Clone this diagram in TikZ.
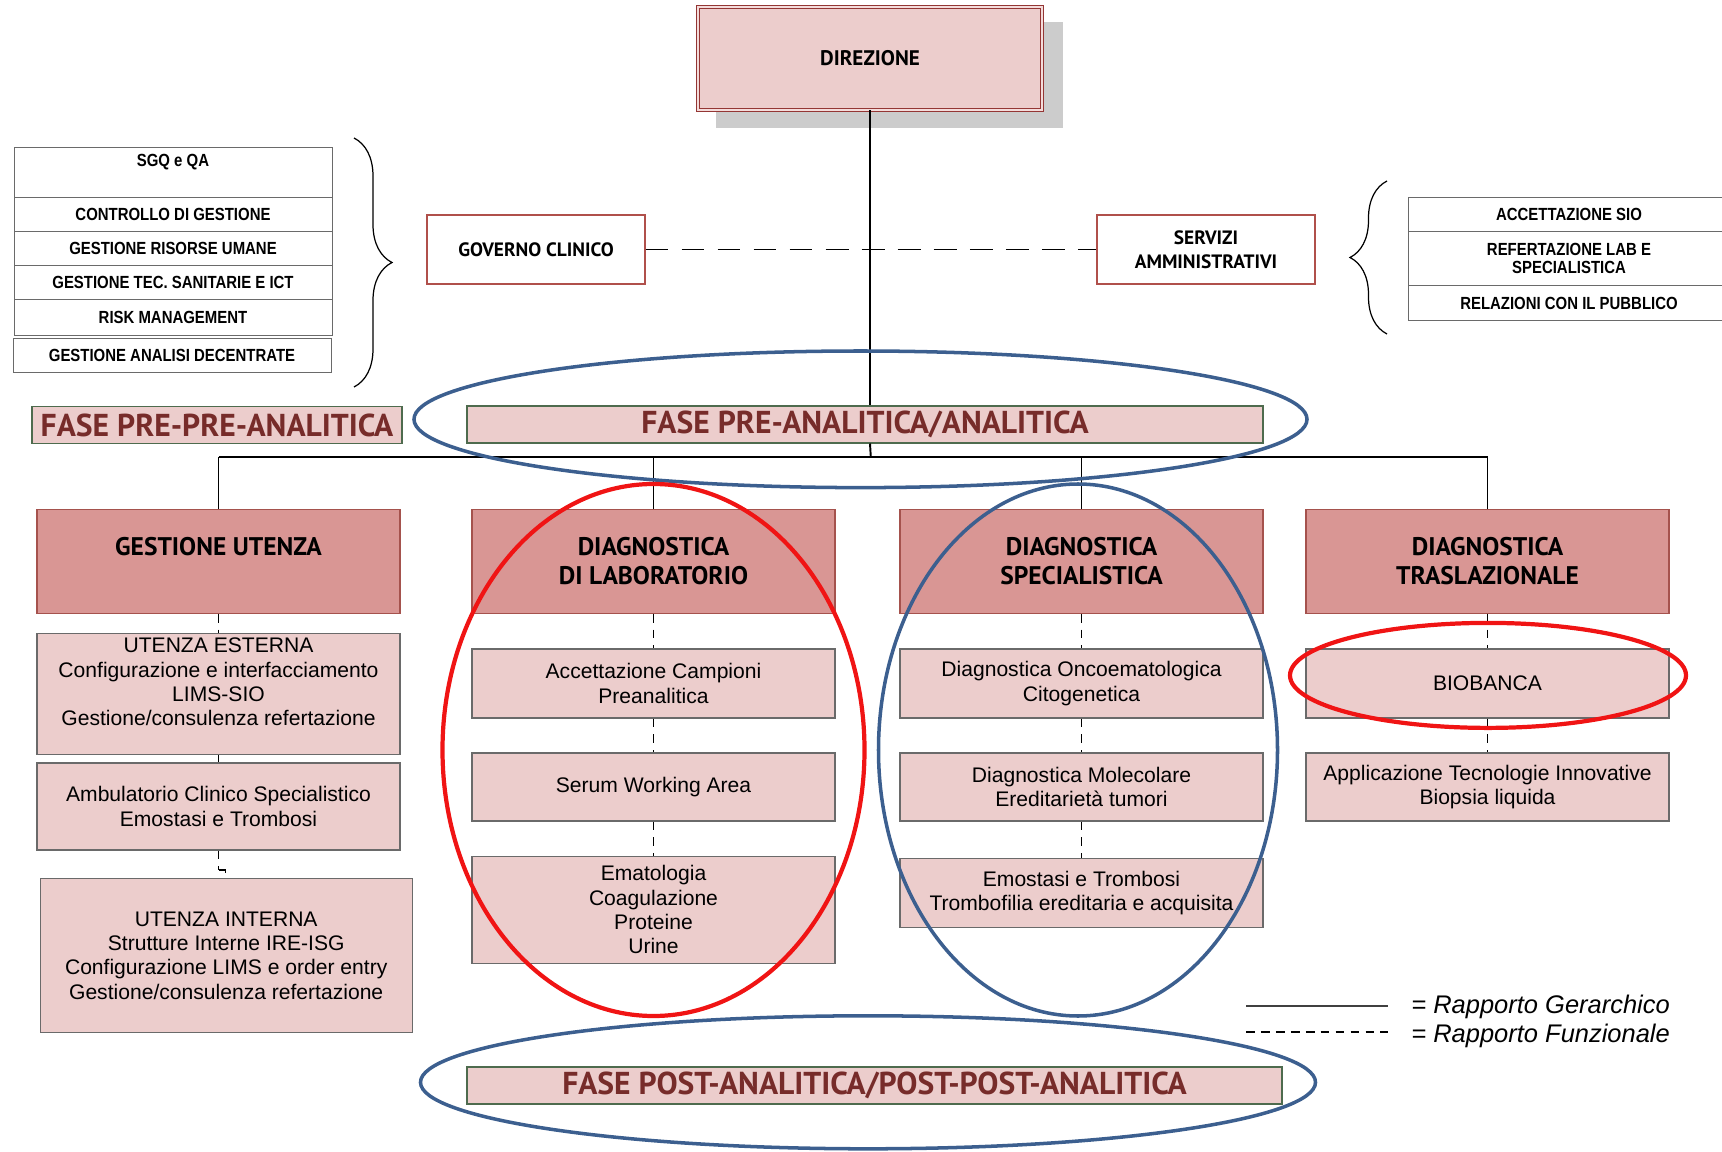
\documentclass[tikz,border=0pt]{standalone}
\usepackage{fontspec}
\setmainfont{Liberation Sans}
\newfontfamily\headfam{PT Sans}
\newfontfamily\narrowfam[FakeStretch=0.85]{Liberation Sans}
\usetikzlibrary{decorations.pathreplacing}

\definecolor{pinklight}{HTML}{ECCDCC}
\definecolor{pinkgap}{HTML}{F4DCDB}
\definecolor{pinkdark}{HTML}{D99694}
\definecolor{catborder}{HTML}{A5524D}
\definecolor{subgray}{HTML}{6A6A6A}
\definecolor{dirborder}{HTML}{943634}
\definecolor{govborder}{HTML}{B0504B}
\definecolor{fasered}{HTML}{772C2A}
\definecolor{faseborder}{HTML}{4E6B4E}
\definecolor{ellblue}{HTML}{3C5F8F}
\definecolor{ellred}{HTML}{F01414}
\definecolor{shadowgray}{HTML}{CCCCCC}

\tikzset{
	dirbox/.style={draw=dirborder,double=pinkgap,double distance=1.2pt,line width=0.5pt,fill=pinklight,minimum width=68.8mm,minimum height=20.6mm,inner sep=0pt,font=\headfam\bfseries\fontsize{12}{14}\selectfont},
	govbox/.style={draw=govborder,fill=white,line width=0.6pt,minimum width=43.6mm,minimum height=13.8mm,inner sep=0pt,align=center,font=\headfam\bfseries\fontsize{11}{13.7}\selectfont},
	stackrow/.style={draw=subgray,fill=white,line width=0.5pt,minimum width=63.6mm,inner sep=0pt,align=center,font=\narrowfam\bfseries\fontsize{10}{10.4}\selectfont},
	stacklab/.style={inner sep=0pt,font=\narrowfam\bfseries\fontsize{10}{10.4}\selectfont},
	fasebox/.style={draw=faseborder,fill=pinklight,line width=0.6pt,minimum height=7.4mm,inner sep=0pt,text=fasered,font=\headfam\bfseries\fontsize{18}{20}\selectfont},
	catbox/.style={draw=catborder,fill=pinkdark,line width=0.6pt,minimum width=72.6mm,minimum height=20.8mm,inner sep=0pt,align=center,font=\headfam\bfseries\fontsize{14.5}{16.8}\selectfont},
	subbox/.style={draw=subgray,fill=pinklight,line width=0.6pt,minimum width=72.6mm,inner sep=0pt,align=center,font=\fontsize{12}{13.8}\selectfont},
	hier/.style={line width=1.1pt},
	drop/.style={line width=0.6pt},
	func/.style={line width=0.9pt,dash pattern=on 5pt off 4pt},
	funclong/.style={line width=1pt,dash pattern=on 13pt off 7.5pt},
	bracepen/.style={line width=0.7pt,decorate},
	ringblue/.style={ellblue,line width=2pt},
	ringred/.style={ellred,line width=2.4pt},
	legendtext/.style={anchor=west,inner sep=0pt,font=\itshape\fontsize{14.5}{16}\selectfont}
}

\begin{document}
\begin{tikzpicture}[x=0.2mm,y=-0.2mm]
	\useasboundingbox (0,0) rectangle (1722,1152);
	% direzione con ombra
	\fill[shadowgray] (716,22) rectangle (1063,128);
	\node[dirbox] (dir) at (870,58.5) {DIREZIONE};
	\node[govbox] (gov) at (536,249.5) {GOVERNO CLINICO};
	\node[govbox] (serv) at (1206,249.5) {SERVIZI\\AMMINISTRATIVI};
	% staff a sinistra
	\node[stackrow,minimum height=10mm] (sgq) at (173,172) {};
	\node[stacklab] (sgqlab) at (173,162.5) {SGQ e QA};
	\node[stackrow,minimum height=6.8mm] (ctrl) at (173,214.7) {CONTROLLO DI GESTIONE};
	\node[stackrow,minimum height=6.8mm] (risorse) at (173,248.7) {GESTIONE RISORSE UMANE};
	\node[stackrow,minimum height=6.8mm] (tec) at (173,282.75) {GESTIONE TEC. SANITARIE E ICT};
	\node[stackrow,minimum height=7.2mm] (risk) at (173,317.9) {RISK MANAGEMENT};
	\node[stackrow,minimum height=6.8mm] (analisi) at (172,355) {GESTIONE ANALISI DECENTRATE};
	\draw[bracepen,decoration={brace,amplitude=7.6mm}] (354,138) -- (354,387);
	% staff a destra
	\node[stackrow,minimum width=64.4mm,minimum height=6.8mm] (accsio) at (1569,214.7) {ACCETTAZIONE SIO};
	\node[stackrow,minimum width=64.4mm,minimum height=10.8mm] (refsio) at (1569,258.6) {REFERTAZIONE LAB E\\SPECIALISTICA};
	\node[stackrow,minimum width=64.4mm,minimum height=7mm] (relpub) at (1569,303.1) {RELAZIONI CON IL PUBBLICO};
	\draw[bracepen,decoration={brace,amplitude=7.4mm}] (1387,334) -- (1387,181);
	% fasi
	\node[fasebox,minimum width=74mm] (fprepre) at (217,425) {FASE PRE-PRE-ANALITICA};
	\node[fasebox,minimum width=159.2mm] (fpre) at (865,424.5) {FASE PRE-ANALITICA/ANALITICA};
	\node[fasebox,minimum width=163mm] (fpost) at (874.5,1085.5) {FASE POST-ANALITICA/POST-POST-ANALITICA};
	% aree
	\node[catbox] (gu) at (218.5,561.2) {GESTIONE UTENZA\\~};
	\node[catbox] (dl) at (653.5,561.2) {DIAGNOSTICA\\DI LABORATORIO};
	\node[catbox] (ds) at (1081.5,561.2) {DIAGNOSTICA\\SPECIALISTICA};
	\node[catbox] (dt) at (1487.5,561.2) {DIAGNOSTICA\\TRASLAZIONALE};
	% utenza
	\node[subbox,minimum height=24.2mm] (ue) at (218.5,694.1) {UTENZA ESTERNA\\Configurazione e interfacciamento\\LIMS-SIO\\Gestione/consulenza refertazione\\~};
	\node[subbox,minimum height=17.4mm] (amb) at (218.5,806.5) {Ambulatorio Clinico Specialistico\\Emostasi e Trombosi};
	\node[subbox,minimum width=74.4mm,minimum height=30.7mm] (ui) at (226.2,955.5) {UTENZA INTERNA\\Strutture Interne IRE-ISG\\Configurazione LIMS e order entry\\Gestione/consulenza refertazione};
	% laboratorio
	\node[subbox,minimum height=13.8mm] (acc) at (653.5,683.5) {Accettazione Campioni\\Preanalitica};
	\node[subbox,minimum height=13.6mm] (serum) at (653.5,787) {Serum Working Area};
	\node[subbox,minimum height=21.3mm] (emat) at (653.5,909.8) {Ematologia\\Coagulazione\\Proteine\\Urine};
	% specialistica
	\node[subbox,minimum height=13.8mm] (onco) at (1081.5,683.5) {Diagnostica Oncoematologica\\Citogenetica};
	\node[subbox,minimum height=13.6mm] (mol) at (1081.5,787) {Diagnostica Molecolare\\Ereditarietà tumori};
	\node[subbox,minimum height=13.8mm] (emo) at (1081.5,893.4) {Emostasi e Trombosi\\Trombofilia ereditaria e acquisita};
	% traslazionale
	\node[subbox,minimum height=13.8mm] (bio) at (1487.5,683.5) {BIOBANCA};
	\node[subbox,minimum height=13.6mm] (appl) at (1487.5,787) {Applicazione Tecnologie Innovative\\Biopsia liquida};

	% rapporti gerarchici
	\coordinate (bus) at (870.8,457);
	\draw[hier] (dir.south) -- (dir.south |- fpre.north);
	\draw[hier] (dir.south |- fpre.south) -- (bus);
	\draw[hier] (gu.north |- bus) -- (dt.north |- bus);
	\foreach \n in {gu,dl,ds,dt}
		\draw[drop] (\n.north) -- (\n.north |- bus);
	% rapporti funzionali
	\draw[funclong] (gov) -- (serv);
	\draw[func] (gu) -- (ue);
	\draw[func] (ue) -- (amb);
	\coordinate (tick) at (218.5,870);
	\draw[func] (amb) -- (tick);
	\draw[line width=0.6pt] (tick) -- ++(7,0) -- ++(0,3);
	\draw[func] (dl) -- (acc);
	\draw[func] (acc) -- (serum);
	\draw[func] (serum) -- (emat);
	\draw[func] (ds) -- (onco);
	\draw[func] (onco) -- (mol);
	\draw[func] (mol) -- (emo);
	\draw[func] (dt) -- (bio);
	\draw[func] (bio) -- (appl);

	% evidenziazioni
	\draw[ringblue] (860.5,419.3) ellipse [x radius=89.3mm,y radius=13.66mm];
	\draw[ringred] (653.5,750) ellipse [x radius=42.2mm,y radius=53.2mm];
	\draw[ringblue] (1078,750) ellipse [x radius=39.9mm,y radius=53.2mm];
	\draw[ringred] (1488,675.4) ellipse [x radius=39.6mm,y radius=10.5mm];
	\draw[ringblue] (868,1082.3) ellipse [x radius=89.5mm,y radius=13.3mm];

	% legenda
	\coordinate (lgha) at (1246,1006);
	\coordinate (lghb) at (1388,1006);
	\coordinate (lgfa) at (1246,1032);
	\coordinate (lgfb) at (1388,1032);
	\draw[line width=0.8pt,black!75] (lgha) -- (lghb);
	\draw[line width=0.8pt,dash pattern=on 5pt off 3.5pt] (lgfa) -- (lgfb);
	\node[legendtext] (lgh) at (1411,1007) {= Rapporto Gerarchico};
	\node[legendtext] (lgf) at (1411,1036) {= Rapporto Funzionale};
\end{tikzpicture}
\end{document}
